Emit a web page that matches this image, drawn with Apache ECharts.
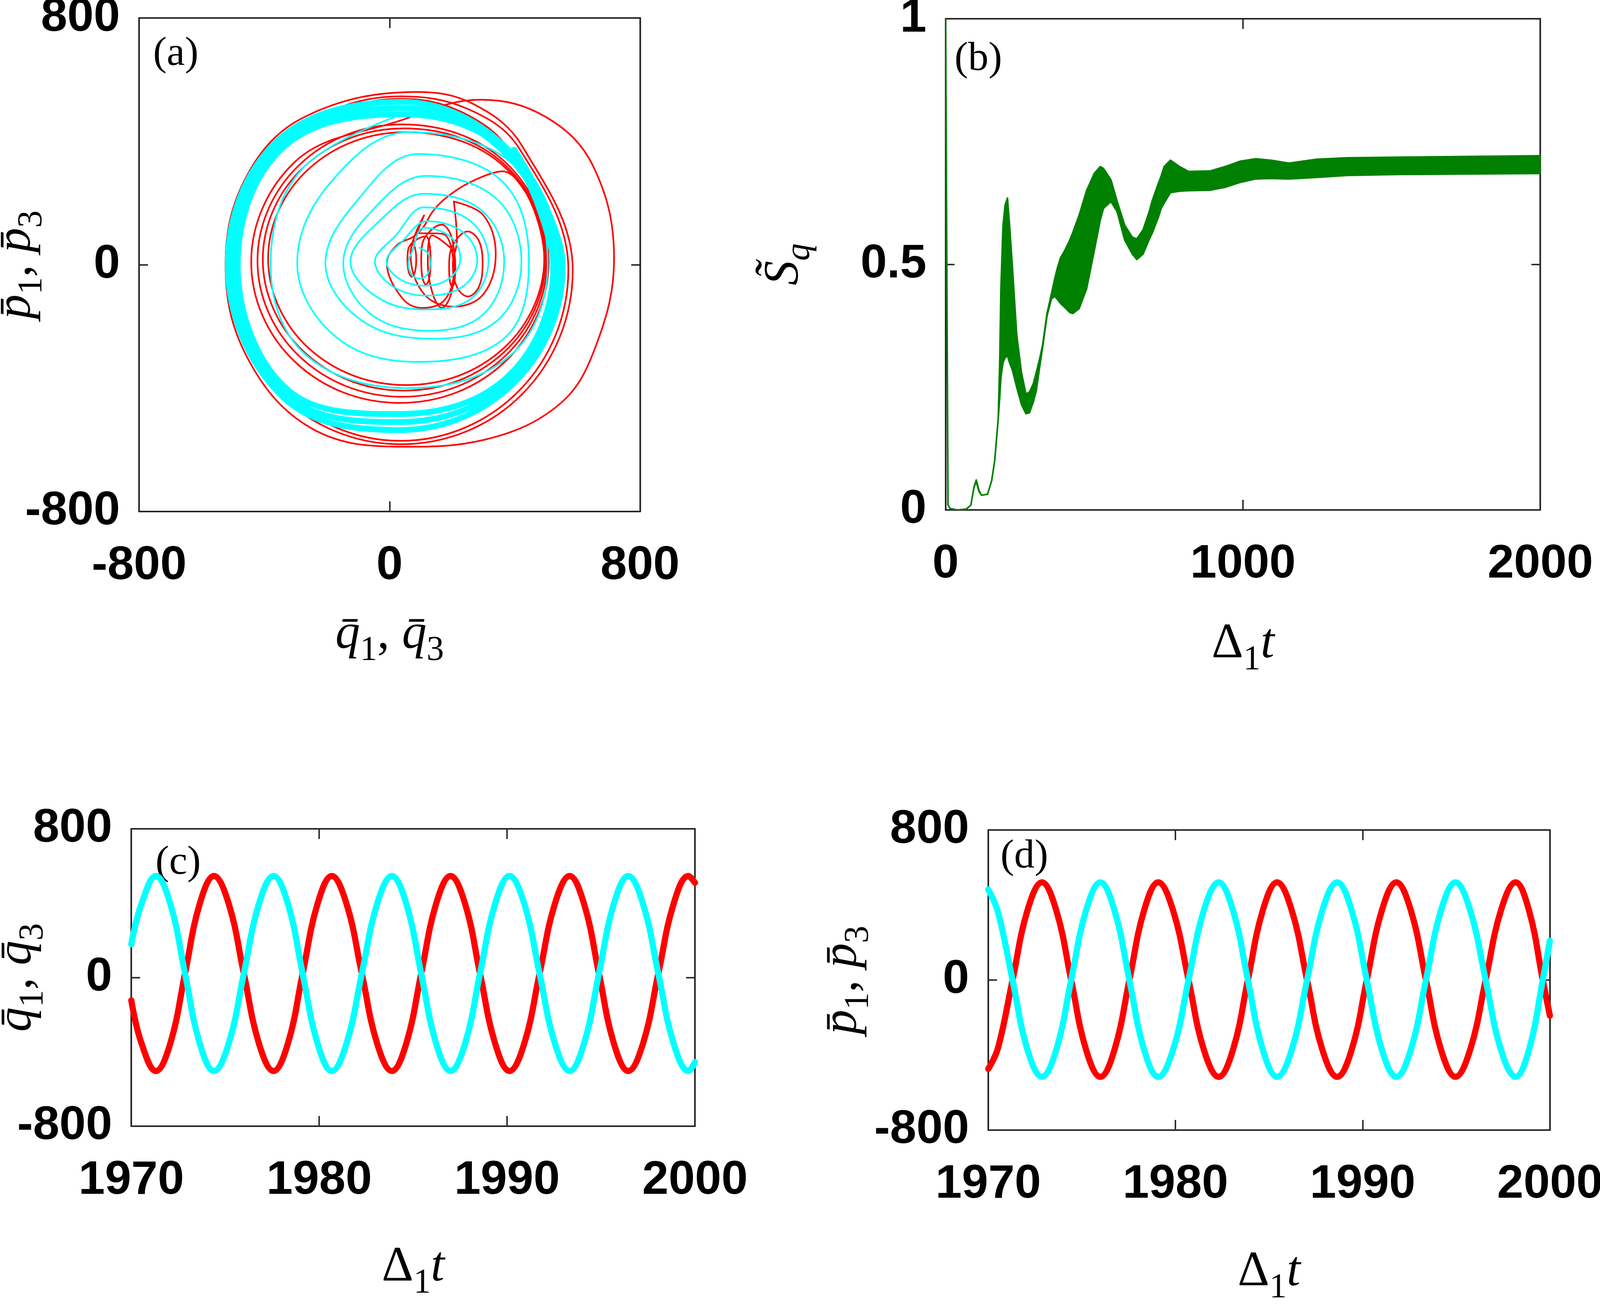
<!DOCTYPE html>
<html><head><meta charset="utf-8">
<script src="https://cdn.jsdelivr.net/npm/echarts@6/dist/echarts.min.js"></script>
<style>html,body{margin:0;padding:0;background:#fff;overflow:hidden}#c{width:100vw;height:100vh}</style>
</head><body><div id="c"></div><script>
// ---------- tick labels ----------
const phaseTicks = [-800, 0, 800];
const timeTicksB = [0, 1000, 2000];
const entropyTicks = [0, 0.5, 1];
const timeTicksCD = [1970, 1980, 1990, 2000];

// ---------- panel (a): phase-space trajectories [q, p] ----------
const redSmallLoops = [
  [71,71],[81,55],[85,16],[81,-23],[71,-39],[61,-23],[57,16],[61,55],
  [116,92],[127,70],[131,14],[127,-42],[116,-65],[105,-42],[101,14],[105,70],
  [167,130],[196,95],[207,10],[196,-95],[167,-140],[138,-95],[122,10],[136,95],
  [200,51],[207,38],[210,-10],[207,-55],[200,-71],[193,-55],[190,-10],[193,38],
  [250,108],[285,78],[297,3],[285,-72],[250,-103],[215,-72],[202,3],[215,78],
  [205,205],[300,160],[339,35],[300,-95],[205,-136],[110,-95],[67,35],[110,160],
  [88,104],[170,100],[205,-20],[175,-115],[102,-140],[40,-108],[-9,6],[25,65]
];
const redTail = [[76,91],[109,124],[136,170],[178,215],[262,270],[360,303]];
const redRings = [
  [494,20],[365,-270],[53,-390],[-259,-270],[-388,20],[-259,310],[53,430],
  [366,318],[498,17],[366,-283],[46,-408],[-273,-283],[-405,17],[-273,318],[46,442],
  [367,325],[503,13],[367,-298],[40,-428],[-287,-298],[-422,13],[-287,325],[40,455],
  [369,333],[508,9],[369,-314],[33,-448],[-303,-314],[-442,9],[-303,333],[33,467],
  [290,535],[499,479],[650,320],[717,20],[660,-260],[544,-451],[300,-568],[44,-590],
  [-250,-530],[-455,-300],[-524,0],[-455,290],[-270,480],[89,560],
  [270,520],[424,384],[585,-17],[424,-419],[36,-582],[-351,-419],[-512,-17],[-351,384],[36,546],
  [250,505],[414,377],[571,-15],[414,-408],[35,-571],[-343,-408],[-500,-15],[-343,377],[35,538],
  [230,495],[388,363],[540,-5],[390,-370],[30,-515],[-330,-420],[-495,0],[-350,390],[40,510],[230,480]
];
const cyanSpiral = [
  [95,55],[122,38],[130,5],[120,-32],[95,-45],[70,-32],[60,5],[70,38],
  [110,120],[195,90],[226,20],[190,-45],[110,-68],[30,-45],[-10,10],[40,75],
  [120,141],[235,105],[280,15],[235,-70],[120,-100],[10,-70],[-47,10],[20,95],
  [110,186],[260,140],[316,15],[260,-110],[110,-145],[-40,-105],[-125,10],[-50,125],
  [110,230],[295,175],[366,10],[300,-160],[130,-214],[-60,-160],[-148,5],[-70,160],
  [115,288],[340,215],[421,10],[345,-180],[140,-240],[-90,-180],[-205,5],[-110,200],
  [90,359],[360,270],[445,10],[370,-235],[90,-315],[-170,-235],[-295,5],[-190,265],
  [60,430],[400,320],[505,0],[390,-290],[60,-400],[-270,-290],[-380,0],[-280,310],
  [60,495]
];
const cyanLimitCycle = [
  [398,373],[553,-5],[400,-380],[30,-536],[-340,-430],[-517,0],[-360,400],[40,528],
  [388,363],[538,-5],[390,-370],[30,-510],[-330,-420],[-501,0],[-350,390],[40,508],
  [378,353],[523,-5],[380,-360],[30,-484],[-320,-410],[-485,0],[-340,380],[40,488],
  [383,358],[530,-5]
];

// ---------- panel (b): S_q band (upper / lower envelope) ----------
const tB = [0,8,15,40,70,85,95,103,112,121,141,155,165,177,182,186,193,200,208,215,224,239,255,270,282,295,305,316,326,341,356,367,377,387,398,418,428,449,474,500,520,531,556,577,602,628,643,664,684,695,715,725,735,756,787,817,889,940,991,1043,1094,1155,1247,1350,1522,2000];
const upB = [1.0,0.01,0.003,0.0,0.002,0.01,0.045,0.061,0.04,0.03,0.032,0.06,0.10,0.186,0.30,0.45,0.578,0.62,0.635,0.58,0.50,0.357,0.28,0.236,0.24,0.257,0.28,0.307,0.335,0.40,0.44,0.471,0.495,0.514,0.525,0.55,0.565,0.60,0.65,0.685,0.699,0.695,0.672,0.628,0.58,0.555,0.552,0.57,0.606,0.63,0.664,0.68,0.699,0.712,0.699,0.689,0.69,0.699,0.71,0.715,0.712,0.706,0.714,0.717,0.718,0.721];
const lowB = [1.0,0.01,0.003,0.0,0.002,0.01,0.045,0.058,0.038,0.03,0.032,0.06,0.10,0.186,0.23,0.27,0.30,0.31,0.314,0.30,0.286,0.25,0.215,0.196,0.198,0.22,0.243,0.29,0.33,0.395,0.43,0.435,0.428,0.42,0.414,0.402,0.40,0.41,0.45,0.528,0.59,0.614,0.628,0.607,0.55,0.521,0.51,0.521,0.55,0.564,0.595,0.614,0.625,0.646,0.649,0.65,0.651,0.657,0.667,0.674,0.675,0.674,0.677,0.681,0.683,0.685];

// ---------- panel (c): q1 (red), q3 (cyan) ----------
const tC = [1970.00,1970.53,1971.31,1972.09,1972.86,1973.63,1974.40,1975.20,1975.99,1976.78,1977.57,1978.35,1979.12,1979.90,1980.67,1981.47,1982.27,1983.07,1983.87,1984.65,1985.43,1986.21,1986.99,1987.78,1988.56,1989.35,1990.13,1990.93,1991.73,1992.53,1993.33,1994.11,1994.89,1995.67,1996.45,1997.25,1998.05,1998.85,1999.65,2000.00];
const q1C = [-123,-350,-503,-350,21,392,546,392,21,-350,-503,-350,21,392,546,392,21,-350,-503,-350,21,392,546,392,21,-350,-503,-350,21,392,546,392,21,-350,-503,-350,21,392,546,510];
const q3C = [179,392,546,392,21,-350,-503,-350,21,392,546,392,21,-350,-503,-350,21,392,546,392,21,-350,-503,-350,21,392,546,392,21,-350,-503,-350,21,392,546,392,21,-350,-503,-455];

// ---------- panel (d): p1 (red), p3 (cyan) ----------
const tD = [1970.00,1970.51,1971.30,1972.08,1972.87,1973.65,1974.43,1975.21,1975.99,1976.76,1977.54,1978.31,1979.08,1979.89,1980.70,1981.50,1982.31,1983.09,1983.87,1984.65,1985.43,1986.23,1987.03,1987.83,1988.64,1989.43,1990.22,1991.01,1991.80,1992.59,1993.38,1994.17,1994.96,1995.76,1996.57,1997.37,1998.17,1998.90,1999.62,2000.00];
const p1D = [-474,-366,0,366,521,366,0,-366,-516,-366,0,366,521,366,0,-366,-516,-366,0,366,521,366,0,-366,-516,-366,0,366,521,366,0,-366,-516,-366,0,366,521,366,0,-190];
const p3D = [483,366,0,-366,-516,-366,0,366,521,366,0,-366,-516,-366,0,366,521,366,0,-366,-516,-366,0,366,521,366,0,-366,-516,-366,0,366,521,366,0,-366,-516,-366,0,210];

// ---------- layout scale (design size 4692 x 3337), x and y scaled separately ----------
const VW = window.innerWidth, VH = window.innerHeight;
const SX = VW / 4692, SY = VH / 3337;
const SF = Math.sqrt(SX * SY);
const X = v => v * SX, Y = v => v * SY, F = v => v * SF;

// ---------- styling ----------
const AX = '#262626', TXT = '#000000';
const RED = '#ff0000', CYAN = '#00ffff', GREEN = '#008000';
const RICH = {
  i: {fontFamily:'Liberation Serif', fontStyle:'italic', fontSize:F(135), lineHeight:F(180), color:TXT},
  n: {fontFamily:'Liberation Serif', fontSize:F(135), lineHeight:F(180), color:TXT},
  s: {fontFamily:'Liberation Serif', fontSize:F(95), lineHeight:F(95), verticalAlign:'bottom', color:TXT},
  si: {fontFamily:'Liberation Serif', fontStyle:'italic', fontSize:F(95), lineHeight:F(95), verticalAlign:'bottom', color:TXT}
};
const NAME_Q = '{i|q\u0304}{s|1}{n|, }{i|q\u0304}{s|3}';
const NAME_P = '{i|p\u0304}{s|1}{n|, }{i|p\u0304}{s|3}';
const NAME_T = '{n|\u0394}{s|1}{i|t}';
const NAME_S = '{i|S\u0303}{si|q}';

function axis(gi, ticks, pos, label, name, gap) {
  const horiz = (pos === 'bottom' || pos === 'top');
  const a = {
    gridIndex: gi, type: 'value', position: pos,
    min: ticks[0], max: ticks[ticks.length - 1], interval: ticks[1] - ticks[0],
    axisLine: {show: true, onZero: false, lineStyle: {color: AX, width: F(4.5)}},
    axisTick: {show: true, inside: true, length: horiz ? Y(26) : X(26), lineStyle: {color: AX, width: F(4)}},
    axisLabel: {show: label, margin: horiz ? Y(79) : X(56), fontFamily: 'Liberation Sans',
                fontWeight: 'bold', fontSize: F(130), color: TXT, formatter: v => String(v)},
    splitLine: {show: false}, minorTick: {show: false}
  };
  if (name) {
    a.name = name; a.nameLocation = 'middle'; a.nameGap = horiz ? Y(gap) : X(gap);
    a.nameMoveOverlap = false;
    if (pos === 'left') a.nameRotate = 90;
    a.nameTextStyle = {rich: RICH};
  }
  return a;
}

const gridBoxes = [
  {left: 408, top: 46, width: 1469, height: 1263},
  {left: 2773, top: 48, width: 1744, height: 1257},
  {left: 385, top: 2121, width: 1653, height: 761},
  {left: 2898, top: 2124, width: 1647, height: 768}
];

const xAxes = [
  axis(0, phaseTicks, 'bottom', true, NAME_Q, 232), axis(0, phaseTicks, 'top', false),
  axis(1, timeTicksB, 'bottom', true, NAME_T, 260), axis(1, timeTicksB, 'top', false),
  axis(2, timeTicksCD, 'bottom', true, NAME_T, 278), axis(2, timeTicksCD, 'top', false),
  axis(3, timeTicksCD, 'bottom', true, NAME_T, 280), axis(3, timeTicksCD, 'top', false)
];
const yAxes = [
  axis(0, phaseTicks, 'left', true, NAME_P, 263), axis(0, phaseTicks, 'right', false),
  axis(1, entropyTicks, 'left', true, NAME_S, 376), axis(1, entropyTicks, 'right', false),
  axis(2, phaseTicks, 'left', true, NAME_Q, 237), axis(2, phaseTicks, 'right', false),
  axis(3, phaseTicks, 'left', true, NAME_P, 330), axis(3, phaseTicks, 'right', false)
];

function lineSeries(ai, data, color, width, smooth) {
  return {type: 'line', xAxisIndex: ai, yAxisIndex: ai, data: data, smooth: smooth,
          symbol: 'none', showSymbol: false, silent: true, clip: true,
          lineStyle: {color: color, width: F(width), cap: 'round', join: 'round'}};
}
const zip = (t, v) => t.map((x, i) => [x, v[i]]);

const series = [
  lineSeries(0, redSmallLoops.concat(redTail, redRings), RED, 4.5, 0.375),
  lineSeries(0, cyanSpiral, CYAN, 4.5, 0.375),
  lineSeries(0, cyanLimitCycle, CYAN, 16, 0.375),
  {
    type: 'custom', coordinateSystem: 'cartesian2d', xAxisIndex: 2, yAxisIndex: 2,
    data: tB.map((t, i) => [t, lowB[i], upB[i]]), encode: {x: 0, y: [1, 2]}, clip: true, silent: true,
    renderItem: function (params, api) {
      if (params.dataIndex !== 0) return null;
      const pts = [];
      for (let i = 0; i < tB.length; i++) pts.push(api.coord([tB[i], upB[i]]));
      for (let i = tB.length - 1; i >= 0; i--) pts.push(api.coord([tB[i], lowB[i]]));
      return {type: 'polygon', shape: {points: pts},
              style: {fill: GREEN, stroke: GREEN, lineWidth: F(4.5), lineJoin: 'round'}};
    }
  },
  lineSeries(4, zip(tC, q1C), RED, 17, 0.4),
  lineSeries(4, zip(tC, q3C), CYAN, 17, 0.4),
  lineSeries(6, zip(tD, p1D), RED, 17, 0.4),
  lineSeries(6, zip(tD, p3D), CYAN, 17, 0.4)
];

const panelFont = F(112) + 'px "Liberation Serif"';
const graphic = [
  {type: 'text', left: X(449), top: Y(86), style: {text: '(a)', font: panelFont, fill: TXT}},
  {type: 'text', left: X(2799), top: Y(99), style: {text: '(b)', font: panelFont, fill: TXT}},
  {type: 'text', left: X(456), top: Y(2156), style: {text: '(c)', font: panelFont, fill: TXT}},
  {type: 'text', left: X(2934), top: Y(2140), style: {text: '(d)', font: panelFont, fill: TXT}}
];

const chart = echarts.init(document.getElementById('c'), null, {renderer: 'canvas'});
chart.setOption({
  animation: false,
  backgroundColor: '#ffffff',
  grid: gridBoxes.map(g => ({left: X(g.left), top: Y(g.top), width: X(g.width), height: Y(g.height),
                             containLabel: false, outerBoundsMode: 'none'})),
  xAxis: xAxes,
  yAxis: yAxes,
  series: series,
  graphic: graphic
});
</script></body></html>
